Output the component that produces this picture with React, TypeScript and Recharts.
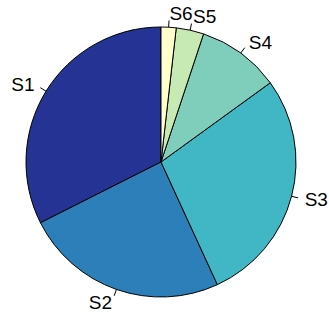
import React from "react";
import { PieChart, Pie, Cell } from "recharts";

const labels = ["S1", "S2", "S3", "S4", "S5", "S6"];
const values = [32.4, 24.4, 28.1, 9.9, 3.3, 1.8];
const colors = ["#253494", "#2c7fb8", "#41b6c4", "#7fcdbb", "#c7e9b4", "#ffffcc"];

const data = labels.map((name, i) => ({ name, value: values[i] }));

const RADIAN = Math.PI / 180;

const renderLabel = (props: any) => {
  const { cx, cy, midAngle, outerRadius, name } = props;
  const c = Math.cos(-midAngle * RADIAN);
  const s = Math.sin(-midAngle * RADIAN);
  const x1 = cx + outerRadius * c;
  const y1 = cy + outerRadius * s;
  const x2 = cx + outerRadius * 1.05 * c;
  const y2 = cy + outerRadius * 1.05 * s;
  const tx = cx + outerRadius * 1.1 * c;
  const ty = cy + outerRadius * 1.1 * s;
  return (
    <g>
      <line x1={x1} y1={y1} x2={x2} y2={y2} stroke="#000" strokeWidth={1} />
      <text
        x={tx}
        y={ty}
        textAnchor={c >= 0 ? "start" : "end"}
        dominantBaseline="central"
        fontFamily="Liberation Sans, Arial, sans-serif"
        fontSize={19}
        fill="#000"
      >
        {name}
      </text>
    </g>
  );
};

export default function App() {
  return (
    <div style={{ position: "absolute", left: 0, top: 0, width: 329, height: 312, background: "#fff" }}>
      <PieChart width={329} height={312} margin={{ top: 0, right: 0, bottom: 0, left: 0 }}>
        <Pie
          data={data}
          dataKey="value"
          nameKey="name"
          cx={161}
          cy={162}
          outerRadius={135}
          innerRadius={0}
          startAngle={90}
          endAngle={450}
          stroke="#000"
          strokeWidth={1}
          label={renderLabel}
          labelLine={false}
          isAnimationActive={false}
        >
          {data.map((d, i) => (
            <Cell key={d.name} fill={colors[i]} />
          ))}
        </Pie>
      </PieChart>
    </div>
  );
}
